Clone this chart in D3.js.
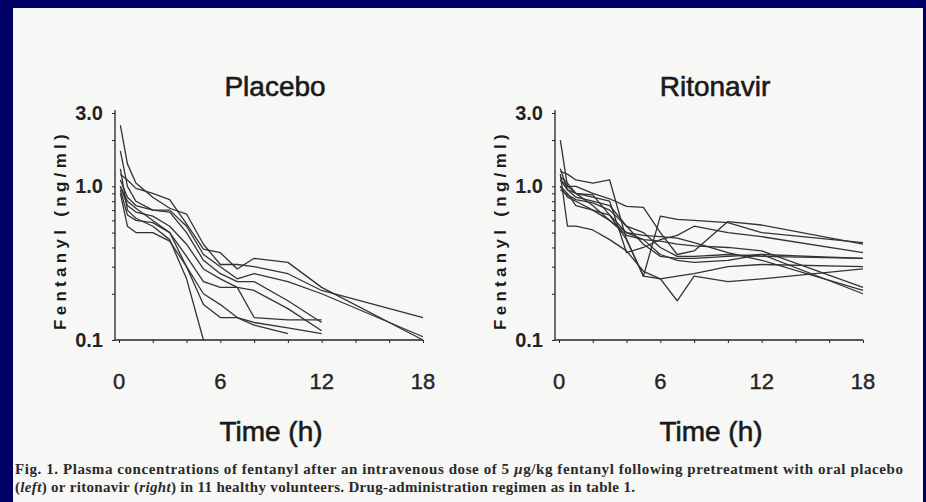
<!DOCTYPE html>
<html>
<head>
<meta charset="utf-8">
<script src="https://cdn.jsdelivr.net/npm/d3@7"></script>
<style>
  html, body { margin: 0; padding: 0; background: #000066; }
  svg { display: block; }
</style>
</head>
<body>
<svg id="chart" width="926" height="502"></svg>
<script>
// ---------- data ----------
const times = [0.08, 0.5, 1, 2, 3, 4, 5, 6, 7, 8, 10, 12, 18];

const placeboSeries = [
  [1.2, 1.1, 0.97, 0.9, 0.82, 0.57, 0.39, 0.37, 0.29, 0.34, 0.32, 0.22, 0.10],
  [2.5, 1.4, 1.05, 0.85, 0.72, 0.66, 0.42, 0.31, 0.31, 0.30, 0.27, 0.21, 0.14],
  [1.7, 1.0, 0.8, 0.7, 0.7, 0.55, 0.36, 0.30, 0.25, 0.27, 0.24, 0.20, 0.105],
  [1.1, 0.85, 0.75, 0.7, 0.68, 0.5, 0.33, 0.27, 0.24, 0.24, 0.18, 0.13, null],
  [1.0, 0.75, 0.68, 0.64, 0.55, 0.42, 0.29, 0.25, 0.22, 0.21, 0.16, 0.115, null],
  [0.95, 0.65, 0.6, 0.58, 0.5, 0.35, 0.24, 0.22, 0.22, 0.14, 0.135, 0.135, null],
  [0.9, 0.55, 0.5, 0.5, 0.44, 0.3, 0.2, 0.17, 0.14, 0.13, 0.12, 0.11, null],
  [1.3, 0.7, 0.62, 0.55, 0.45, 0.25, 0.10, null, null, null, null, null, null],
  [1.0, 0.8, 0.72, 0.6, 0.5, 0.3, 0.17, 0.14, 0.14, 0.125, 0.11, null, null]
];

const ritonavirSeries = [
  [2.0, 1.0, 1.0, 0.9, 0.83, 0.74, 0.73, 0.50, 0.36, 0.38, 0.59, 0.56, 0.42],
  [1.25, 1.2, 1.1, 1.05, 1.1, 0.45, 0.26, 0.64, 0.61, 0.6, 0.58, 0.5, 0.43],
  [1.1, 0.95, 0.85, 0.8, 0.75, 0.55, 0.42, 0.35, 0.34, 0.34, 0.35, 0.36, 0.34],
  [1.0, 0.9, 0.75, 0.7, 0.65, 0.45, 0.26, 0.25, 0.18, 0.26, 0.24, 0.25, 0.29],
  [1.2, 0.55, 0.55, 0.52, 0.45, 0.38, 0.28, 0.25, 0.26, 0.27, 0.30, 0.31, 0.30],
  [1.1, 1.0, 0.9, 0.88, 0.65, 0.5, 0.48, 0.47, 0.46, 0.43, 0.37, 0.33, 0.21],
  [0.95, 0.88, 0.82, 0.78, 0.7, 0.55, 0.5, 0.4, 0.35, 0.35, 0.36, 0.35, 0.34],
  [1.3, 0.95, 0.9, 0.75, 0.6, 0.48, 0.45, 0.44, 0.42, 0.41, 0.4, 0.38, 0.22],
  [1.15, 1.05, 0.9, 0.85, 0.8, 0.37, 0.4, 0.45, 0.48, 0.55, 0.5, 0.47, 0.37],
  [1.0, 0.85, 0.8, 0.7, 0.6, 0.5, 0.45, 0.36, 0.33, 0.32, 0.33, 0.36, 0.2]
];

const panelTitles = ["Placebo", "Ritonavir"];
const xTickLabels = [0, 6, 12, 18];
const xMinorTicks = [0, 2, 4, 6, 8, 10, 12, 14, 16, 18];
const yTickLabels = [0.1, 1.0, 3.0];
const yMinorTicks = [0.1, 0.2, 0.3, 0.4, 0.5, 0.6, 0.7, 0.8, 0.9, 1, 2, 3];
const yLabel = "Fentanyl (ng/ml)";
const xLabel = "Time (h)";

// ---------- drawing ----------
const svg = d3.select("#chart");
const ink = "#242424";
const sans = "Liberation Sans, Arial, sans-serif";

// paper
svg.append("rect").attr("x", 13).attr("y", 8).attr("width", 910).attr("height", 494)
  .attr("fill", "#f7f7f6");

const panels = [
  { series: placeboSeries, title: panelTitles[0], x0: 119 },
  { series: ritonavirSeries, title: panelTitles[1], x0: 559 }
];

panels.forEach(p => {
  const x = d3.scaleLinear().domain([0, 18]).range([p.x0, p.x0 + 304]);
  const y = d3.scaleLog().domain([0.1, 3]).range([340, 113]);
  const g = svg.append("g");

  // y axis with minor ticks
  const yAxis = g.append("g").attr("transform", `translate(${p.x0 - 4},0)`)
    .call(d3.axisLeft(y).tickValues(yMinorTicks).tickSize(3).tickSizeOuter(0).tickFormat(""));
  yAxis.select(".domain").attr("stroke", ink).attr("stroke-width", 1.3)
    .attr("d", `M0,${y(0.1)}V110`);
  yAxis.selectAll(".tick line").attr("stroke", ink).attr("stroke-width", 1);

  // y tick labels
  g.selectAll(".ylab").data(yTickLabels).enter().append("text")
    .attr("x", p.x0 - 16).attr("y", d => y(d) + 7)
    .attr("text-anchor", "end")
    .attr("font-family", sans)
    .attr("font-size", 20).attr("font-weight", "bold")
    .attr("fill", ink)
    .text(d => d.toFixed(1));

  // x axis
  const xAxis = g.append("g").attr("transform", `translate(0,340)`)
    .call(d3.axisBottom(x).tickValues(xMinorTicks).tickSize(3).tickSizeOuter(0).tickFormat(""));
  xAxis.select(".domain").attr("stroke", ink).attr("stroke-width", 1.3)
    .attr("d", `M${p.x0 - 4},0H${x(18)}`);
  xAxis.selectAll(".tick line").attr("stroke", ink).attr("stroke-width", 1);

  g.selectAll(".xlab").data(xTickLabels).enter().append("text")
    .attr("x", d => x(d)).attr("y", 389)
    .attr("text-anchor", "middle")
    .attr("font-family", sans)
    .attr("font-size", 22)
    .attr("fill", ink).attr("stroke", ink).attr("stroke-width", 0.4)
    .text(d => d);

  // titles
  g.append("text").attr("x", p.x0 + 156).attr("y", 96)
    .attr("text-anchor", "middle")
    .attr("font-family", sans)
    .attr("font-size", 28).attr("fill", "#1a1a1a")
    .attr("stroke", "#1a1a1a").attr("stroke-width", 0.6)
    .text(p.title);

  g.append("text").attr("x", p.x0 + 152).attr("y", 441)
    .attr("text-anchor", "middle")
    .attr("font-family", sans)
    .attr("font-size", 28).attr("fill", "#1a1a1a")
    .attr("stroke", "#1a1a1a").attr("stroke-width", 0.6)
    .text(xLabel);

  g.append("text")
    .attr("transform", `translate(${p.x0 - 53},${230}) rotate(-90)`)
    .attr("text-anchor", "middle")
    .attr("font-family", sans)
    .attr("font-size", 17).attr("font-weight", "bold")
    .attr("letter-spacing", 4.3)
    .attr("fill", "#1a1a1a")
    .text(yLabel);

  // data lines
  const line = d3.line()
    .defined(d => d[1] != null)
    .x(d => x(d[0])).y(d => y(d[1]));
  g.selectAll(".series").data(p.series).enter().append("path")
    .attr("d", s => line(s.map((v, i) => [times[i], v])))
    .attr("fill", "none")
    .attr("stroke", "#333")
    .attr("stroke-width", 1.3)
    .attr("stroke-linejoin", "round");
});

// caption
const cap = svg.append("g")
  .attr("font-family", "Liberation Serif, Times New Roman, serif")
  .attr("font-size", 15).attr("font-weight", "bold").attr("fill", "#2a2a2a");
const t1 = cap.append("text").attr("x", 15).attr("y", 474)
  .attr("textLength", 888).attr("lengthAdjust", "spacing");
t1.append("tspan").text("Fig. 1. Plasma concentrations of fentanyl after an intravenous dose of 5 ");
t1.append("tspan").attr("font-style", "italic").text("µ");
t1.append("tspan").text("g/kg fentanyl following pretreatment with oral placebo");
const t2 = cap.append("text").attr("x", 15).attr("y", 492)
  .attr("textLength", 620).attr("lengthAdjust", "spacing");
t2.append("tspan").text("(");
t2.append("tspan").attr("font-style", "italic").text("left");
t2.append("tspan").text(") or ritonavir (");
t2.append("tspan").attr("font-style", "italic").text("right");
t2.append("tspan").text(") in 11 healthy volunteers. Drug-administration regimen as in table 1.");
</script>
</body>
</html>
